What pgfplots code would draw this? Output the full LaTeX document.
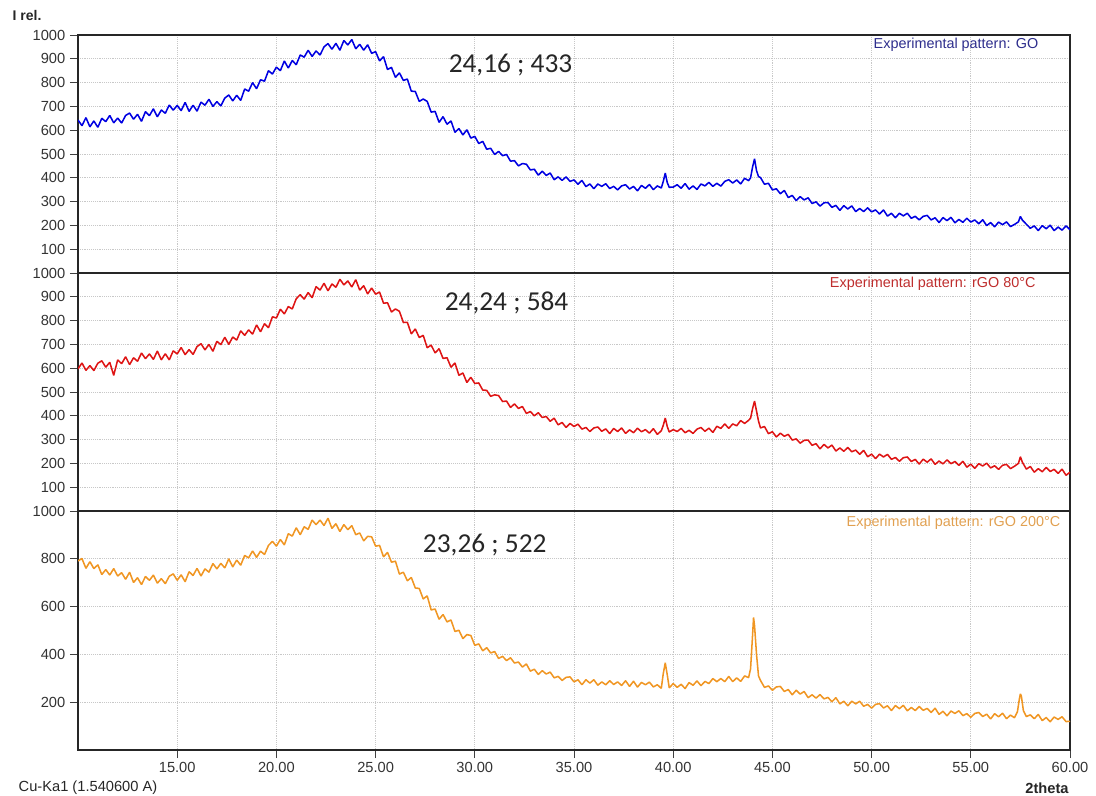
\documentclass[border=0pt]{standalone}
\usepackage{pgfplots}
\usepackage{pgfplotstable}
\pgfplotsset{compat=1.18}
\usepackage{fontspec}
\setmainfont{Liberation Sans}
\newfontfamily\calibri{Carlito}
\definecolor{goblue}{RGB}{0,0,225}
\definecolor{gored}{RGB}{222,20,20}
\definecolor{goorange}{RGB}{240,150,35}
\definecolor{gridgray}{RGB}{200,200,200}
\definecolor{tblue}{RGB}{45,45,140}
\definecolor{tred}{RGB}{190,45,45}
\definecolor{torange}{RGB}{225,160,80}

\pgfplotstableread{
x y
10.0 643
10.2 619
10.4 653
10.6 614
10.8 639
11.0 612
11.2 650
11.4 636
11.6 662
11.8 631
12.0 651
12.2 630
12.4 662
12.6 672
12.8 646
13.0 667
13.2 637
13.4 678
13.6 661
13.8 690
14.0 656
14.2 685
14.4 671
14.6 706
14.8 684
15.0 704
15.2 682
15.4 717
15.6 679
15.8 705
16.0 680
16.2 718
16.4 705
16.6 730
16.8 700
17.0 720
17.2 702
17.4 735
17.6 748
17.8 723
18.0 747
18.2 725
18.4 773
18.6 764
18.8 800
19.0 774
19.2 812
19.4 806
19.6 850
19.8 836
20.0 865
20.2 850
20.4 891
20.6 861
20.8 893
21.0 875
21.2 916
21.4 907
21.6 936
21.8 910
22.0 933
22.2 916
22.4 950
22.6 964
22.8 940
23.0 965
23.2 936
23.4 977
23.6 958
23.8 981
24.0 942
24.2 961
24.4 936
24.6 959
24.8 923
25.0 930
25.2 891
25.4 909
25.6 855
25.8 864
26.0 822
26.2 841
26.4 809
26.6 815
26.8 764
27.0 763
27.2 721
27.4 731
27.6 721
27.8 676
28.0 679
28.2 633
28.4 657
28.6 625
28.8 639
29.0 591
29.2 607
29.4 580
29.6 602
29.8 567
30.0 574
30.2 544
30.4 553
30.6 520
30.8 524
31.0 498
31.2 511
31.4 493
31.6 498
31.8 470
32.0 472
32.2 450
32.4 460
32.6 457
32.8 433
33.0 436
33.2 411
33.4 428
33.6 410
33.8 420
34.0 392
34.2 404
34.4 389
34.6 404
34.8 385
35.0 391
35.2 373
35.4 389
35.6 363
35.8 374
36.0 354
36.2 374
36.4 364
36.6 375
36.8 355
37.0 364
37.2 349
37.4 366
37.6 371
37.8 353
38.0 364
38.2 345
38.4 368
38.6 356
38.8 372
39.0 350
39.2 366
39.4 357
39.5 385
39.6 420
39.7 380
39.8 360
40.0 361
40.2 371
40.4 356
40.6 376
40.8 352
41.0 366
41.2 351
41.4 374
41.6 366
41.8 381
42.0 364
42.2 377
42.4 365
42.6 385
42.8 392
43.0 378
43.2 391
43.4 374
43.6 398
43.8 388
43.9 400
44.0 445
44.1 480
44.2 430
44.3 405
44.4 401
44.6 373
44.8 377
45.0 349
45.2 354
45.4 333
45.6 347
45.8 317
46.0 326
46.2 304
46.4 321
46.6 307
46.8 316
47.0 292
47.2 299
47.4 281
47.6 295
47.8 296
48.0 276
48.2 284
48.4 263
48.6 283
48.8 269
49.0 282
49.2 258
49.4 271
49.6 258
49.8 274
50.0 257
50.2 265
50.4 248
50.6 265
50.8 239
51.0 251
51.2 232
51.4 251
51.6 240
51.8 251
52.0 230
52.2 238
52.4 223
52.6 238
52.8 242
53.0 223
53.2 232
53.4 212
53.6 233
53.8 220
54.0 234
54.2 211
54.4 225
54.6 213
54.8 230
55.0 214
55.2 223
55.4 207
55.6 224
55.8 199
56.0 212
56.2 194
56.4 214
56.6 203
56.8 215
57.0 195
57.2 204
57.4 215
57.5 238
57.6 222
57.8 205
58.0 188
58.2 198
58.4 178
58.6 199
58.8 186
59.0 201
59.2 178
59.4 193
59.6 180
59.8 198
60.0 182
}\godata

\pgfplotstableread{
x y
10.0 597
10.2 622
10.4 591
10.6 611
10.8 590
11.0 621
11.2 631
11.4 604
11.6 625
11.8 570
12.0 635
12.2 619
12.4 648
12.6 615
12.8 644
13.0 629
13.2 664
13.4 640
13.6 660
13.8 637
14.0 672
14.2 635
14.4 661
14.6 635
14.8 673
15.0 660
15.2 687
15.4 657
15.6 678
15.8 658
16.0 691
16.2 703
16.4 677
16.6 700
16.8 671
17.0 713
17.2 699
17.4 730
17.6 700
17.8 731
18.0 718
18.2 757
18.4 738
18.6 761
18.8 743
19.0 782
19.2 753
19.4 787
19.6 770
19.8 816
20.0 811
20.2 848
20.4 828
20.6 859
20.8 849
21.0 892
21.2 909
21.4 890
21.6 918
21.8 896
22.0 943
22.2 928
22.4 957
22.6 925
22.8 954
23.0 940
23.2 974
23.4 950
23.6 967
23.8 941
24.0 972
24.2 928
24.4 947
24.6 912
24.8 937
25.0 911
25.2 920
25.4 873
25.6 875
25.8 836
26.0 849
26.2 839
26.4 792
26.6 793
26.8 744
27.0 765
27.2 729
27.4 738
27.6 686
27.8 697
28.0 664
28.2 682
28.4 641
28.6 644
28.8 604
29.0 622
29.2 570
29.4 580
29.6 540
29.8 562
30.0 536
30.2 538
30.4 508
30.6 507
30.8 482
31.0 488
31.2 485
31.4 460
31.6 462
31.8 435
32.0 450
32.2 431
32.4 439
32.6 410
32.8 418
33.0 400
33.2 413
33.4 393
33.6 397
33.8 377
34.0 390
34.2 362
34.4 372
34.6 351
34.8 368
35.0 355
35.2 365
35.4 344
35.6 351
35.8 334
36.0 349
36.2 353
36.4 335
36.6 345
36.8 325
37.0 347
37.2 334
37.4 349
37.6 326
37.8 341
38.0 329
38.2 348
38.4 333
38.6 342
38.8 327
39.0 346
39.2 322
39.4 337
39.5 360
39.6 391
39.7 355
39.8 332
40.0 342
40.2 334
40.4 347
40.6 329
40.8 339
41.0 326
41.2 344
41.4 351
41.6 335
41.8 348
42.0 330
42.2 356
42.4 347
42.6 366
42.8 347
43.0 366
43.2 358
43.4 380
43.6 368
43.8 381
43.9 390
44.0 430
44.1 462
44.2 420
44.3 378
44.4 349
44.6 355
44.8 325
45.0 333
45.2 311
45.4 327
45.6 314
45.8 322
46.0 298
46.2 303
46.4 285
46.6 297
46.8 298
47.0 276
47.2 283
47.4 261
47.6 280
47.8 265
48.0 277
48.2 252
48.4 265
48.6 251
48.8 267
49.0 249
49.2 256
49.4 238
49.6 255
49.8 228
50.0 239
50.2 220
50.4 239
50.6 227
50.8 238
51.0 217
51.2 225
51.4 209
51.6 224
51.8 227
52.0 208
52.2 217
52.4 197
52.6 218
52.8 205
53.0 219
53.2 196
53.4 210
53.6 198
53.8 215
54.0 199
54.2 208
54.4 192
54.6 209
54.8 184
55.0 197
55.2 179
55.4 199
55.6 189
55.8 201
56.0 181
56.2 190
56.4 175
56.6 192
56.8 196
57.0 178
57.2 188
57.4 200
57.5 228
57.6 205
57.8 176
58.0 187
58.2 163
58.4 178
58.6 165
58.8 183
59.0 166
59.2 175
59.4 158
59.6 176
59.8 150
60.0 163
}\rgoeighty

\pgfplotstableread{
x y
10.0 791
10.2 801
10.4 760
10.6 788
10.8 759
11.0 775
11.2 734
11.4 755
11.6 732
11.8 759
12.0 728
12.2 742
12.4 714
12.6 744
12.8 701
13.0 721
13.2 692
13.4 726
13.6 710
13.8 732
14.0 698
14.2 717
14.4 696
14.6 727
14.8 737
15.0 710
15.2 733
15.4 704
15.6 746
15.8 730
16.0 760
16.2 728
16.4 758
16.6 744
16.8 780
17.0 758
17.2 781
17.4 762
17.6 800
17.8 766
18.0 795
18.2 773
18.4 814
18.6 804
18.8 833
19.0 806
19.2 832
19.4 818
19.6 856
19.8 873
20.0 853
20.2 881
20.4 858
20.6 905
20.8 895
21.0 930
21.2 901
21.4 934
21.6 923
21.8 962
22.0 943
22.2 962
22.4 939
22.6 970
22.8 927
23.0 947
23.2 914
23.4 943
23.6 922
23.8 939
24.0 901
24.2 908
24.4 875
24.6 894
24.8 892
25.0 853
25.2 856
25.4 808
25.6 827
25.8 786
26.0 790
26.2 736
26.4 744
26.6 708
26.8 722
27.0 678
27.2 676
27.4 632
27.6 645
27.8 586
28.0 590
28.2 547
28.4 567
28.6 536
28.8 544
29.0 496
29.2 501
29.4 466
29.6 483
29.8 479
30.0 438
30.2 444
30.4 415
30.6 428
30.8 406
31.0 412
31.2 383
31.4 392
31.6 374
31.8 386
32.0 364
32.2 368
32.4 347
32.6 360
32.8 330
33.0 338
33.2 316
33.4 332
33.6 318
33.8 326
34.0 302
34.2 308
34.4 291
34.6 304
34.8 306
35.0 285
35.2 294
35.4 273
35.6 294
35.8 280
36.0 294
36.2 271
36.4 285
36.6 273
36.8 290
37.0 274
37.2 285
37.4 270
37.6 290
37.8 266
38.0 288
38.2 263
38.4 283
38.6 273
38.8 284
39.0 264
39.2 273
39.4 258
39.5 320
39.6 365
39.7 315
39.8 260
40.0 278
40.2 262
40.4 275
40.6 257
40.8 282
41.0 271
41.2 289
41.4 269
41.6 287
41.8 278
42.0 299
42.2 286
42.4 299
42.6 286
42.8 308
43.0 286
43.2 302
43.4 287
43.6 310
43.8 303
43.9 340
44.0 480
44.05 555
44.1 520
44.2 400
44.3 310
44.4 291
44.6 262
44.8 268
45.0 250
45.2 264
45.4 266
45.6 245
45.8 253
46.0 231
46.2 250
46.4 234
46.6 245
46.8 219
47.0 231
47.2 217
47.4 232
47.6 214
47.8 220
48.0 202
48.2 219
48.4 193
48.6 204
48.8 185
49.0 204
49.2 193
49.4 204
49.6 183
49.8 191
50.0 175
50.2 191
50.4 194
50.6 176
50.8 185
51.0 165
51.2 186
51.4 173
51.6 187
51.8 164
52.0 178
52.2 165
52.4 182
52.6 166
52.8 174
53.0 157
53.2 175
53.4 149
53.6 162
53.8 143
54.0 163
54.2 153
54.4 164
54.6 144
54.8 152
55.0 137
55.2 153
55.4 157
55.6 140
55.8 150
56.0 130
56.2 152
56.4 139
56.6 154
56.8 131
57.0 146
57.2 135
57.35 160
57.45 215
57.5 235
57.55 225
57.65 165
57.8 140
58.0 147
58.2 131
58.4 149
58.6 123
58.8 136
59.0 118
59.2 138
59.4 128
59.6 139
59.8 119
60.0 120
}\rgotwohundred

\pgfplotsset{
  xrdpanel/.style={
    scale only axis, width=744pt,
    xmin=10, xmax=60, ymin=0, ymax=1000,
    xtick={15,20,...,60},
    tick align=outside, ytick pos=left, xtick pos=bottom,
    major tick length=6pt,
    tick style={black!75, line width=0.6pt},
    grid=major,
    major grid style={gridgray, densely dotted, line width=0.5pt},
    axis line style={black!85, line width=0.8pt},
    tick label style={font=\fontsize{11}{13}\selectfont, text=black!80},
    /pgf/number format/assume math mode=true,
    /pgf/number format/1000 sep={},
    x tick label style={/pgf/number format/fixed, /pgf/number format/fixed zerofill, /pgf/number format/precision=2},
  },
}

\begin{document}
\begin{tikzpicture}
\useasboundingbox (0pt,0pt) rectangle (822pt,-597pt);

% Panel 1: GO
\begin{axis}[xrdpanel, at={(58.5pt,-26.25pt)}, anchor=north west, height=178.5pt,
  ytick={100,200,...,1000}, xticklabels={}, xtick style={draw=none}]
\addplot[goblue, line width=1.15pt, line join=bevel] table[x=x,y=y] {\godata};
\node[font=\calibri\fontsize{20.5}{24}\selectfont, text=black!85] at (axis cs:31.8,874) {24,16 ; 433};
\node[anchor=east, font=\fontsize{10.8}{13}\selectfont, text=tblue] at (axis cs:58.64,958) {Experimental pattern: GO};
\end{axis}

% Panel 2: rGO 80
\begin{axis}[xrdpanel, at={(58.5pt,-204.75pt)}, anchor=north west, height=178.5pt,
  ytick={100,200,...,1000}, xticklabels={}, xtick style={draw=none}]
\addplot[gored, line width=1.15pt, line join=bevel] table[x=x,y=y] {\rgoeighty};
\node[font=\calibri\fontsize{20.5}{24}\selectfont, text=black!85] at (axis cs:31.6,874) {24,24 ; 584};
\node[anchor=east, font=\fontsize{10.8}{13}\selectfont, text=tred] at (axis cs:58.5,954) {Experimental pattern: rGO 80°C};
\end{axis}

% Panel 3: rGO 200
\begin{axis}[xrdpanel, at={(58.5pt,-383.25pt)}, anchor=north west, height=179.25pt,
  ytick={200,400,...,1000}]
\addplot[goorange, line width=1.15pt, line join=bevel] table[x=x,y=y] {\rgotwohundred};
\node[font=\calibri\fontsize{20.5}{24}\selectfont, text=black!85] at (axis cs:30.5,858) {23,26 ; 522};
\node[anchor=east, font=\fontsize{10.8}{13}\selectfont, text=torange] at (axis cs:59.75,950) {Experimental pattern: rGO 200°C};
\end{axis}

\node[anchor=west, font=\bfseries\fontsize{10.5}{12}\selectfont, text=black!85] at (6pt,-11.5pt) {I rel.};
\node[anchor=west, font=\fontsize{11}{13}\selectfont, text=black!85] at (10.5pt,-591pt) {Cu-Ka1 (1.540600 A)};
\node[anchor=east, font=\bfseries\fontsize{11}{13}\selectfont, text=black!85] at (805pt,-591pt) {2theta};
\end{tikzpicture}
\end{document}
